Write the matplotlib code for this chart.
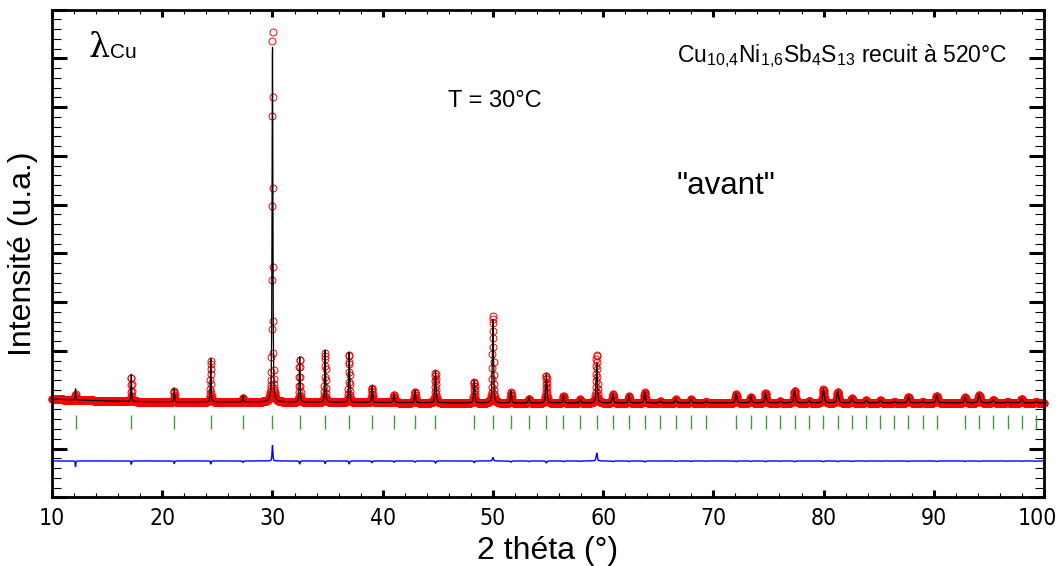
"""Rietveld plot: Cu10,4Ni1,6Sb4S13 recuit a 520 C, T = 30 C ("avant")."""

import matplotlib
matplotlib.use("Agg")
import matplotlib.pyplot as plt
from matplotlib import font_manager
from matplotlib.font_manager import FontProperties
from matplotlib.ticker import FuncFormatter, MultipleLocator, NullFormatter
import numpy as np

plt.rcParams.update({
    "font.family": "Liberation Sans",
    "mathtext.fontset": "custom",
    "mathtext.rm": "Liberation Sans",
    "mathtext.it": "Liberation Sans",
})

# ─── data ────────────────────────────────────────────────────────────────────

# Bragg positions of the tetrahedrite phase (2θ, °)
bragg_pos = [12.13, 17.19, 21.09, 24.40, 27.33, 30.00, 32.47, 34.78, 36.96,
             39.04, 41.03, 42.94, 44.79, 48.31, 50.00, 51.65, 53.27, 54.85,
             56.40, 57.92, 59.42, 60.89, 62.34, 63.78, 65.20, 66.60, 67.98,
             69.35, 72.07, 73.41, 74.74, 76.06, 77.38, 78.69, 79.99, 81.29,
             82.58, 83.87, 85.15, 86.43, 87.70, 88.99, 90.27, 92.84, 94.12,
             95.40, 96.69, 97.99, 99.27]

# peak heights above background, observed and calculated (u.a.)
obs_height = [120, 510, 225, 840, 90, 7720, 890, 1015, 980,
              305, 160, 225, 615, 435, 1790, 215, 90, 560,
              140, 70, 980, 175, 135, 215, 30, 70, 70,
              25, 180, 125, 195, 30, 245, 40, 275, 225,
              90, 50, 50, 20, 125, 20, 145, 110, 160,
              60, 20, 80, 20]
calc_height = [240, 580, 280, 900, 120, 7400, 950, 1070, 1040,
               340, 185, 250, 660, 470, 1720, 240, 105, 600,
               155, 80, 820, 190, 150, 235, 35, 80, 80,
               30, 195, 135, 210, 35, 260, 45, 290, 240,
               100, 55, 55, 25, 135, 25, 155, 120, 170,
               65, 25, 85, 25]

# background level
bg_2theta = [10, 12, 17, 20, 30, 40, 50, 70, 100]
bg_level = [2015, 1995, 1964, 1958, 1954, 1943, 1933, 1937, 1937]

diff_offset = 745          # Yobs - Ycalc is shifted to this level
bragg_lo, bragg_hi = 1400, 1690


def profile(x, heights):
    """Background plus pseudo-Voigt peaks at the Bragg positions."""
    y = np.interp(x, bg_2theta, bg_level).astype(float)
    for pos, h in zip(bragg_pos, heights):
        w = 0.06 + 0.0015 * (pos - 10)
        d = (x - pos) / w
        y += h * (0.5 * np.exp(-4 * np.log(2) * d ** 2) + 0.5 / (1 + 4 * d ** 2))
    return y


two_theta = np.arange(10, 100.0001, 0.0167)
y_obs = profile(two_theta, obs_height)
y_calc = profile(two_theta, calc_height)


def narrow_font(size):
    """A condensed sans face for the tick labels, if one is installed."""
    fonts = font_manager.fontManager.ttflist
    for f in fonts:
        if f.name in ("Liberation Sans Narrow", "Arial Narrow") and f.weight in (400, "normal") \
                and f.style == "normal":
            return FontProperties(fname=f.fname, size=size)
    for f in fonts:
        if f.name in ("Liberation Sans", "DejaVu Sans") and "ondensed" in str(f.stretch) \
                and f.style == "normal" and f.weight in (400, "normal"):
            return FontProperties(fname=f.fname, size=size)
    return FontProperties(family="Liberation Sans", size=size - 1.5)


# ─── figure ──────────────────────────────────────────────────────────────────

fig = plt.figure(figsize=(10.6, 5.66), dpi=100)
ax = fig.add_axes([0.0491, 0.1214, 0.9358, 0.8618])

ax.plot(two_theta, y_obs, "o", mfc="none", mec="red", ms=5, mew=0.7,
        clip_on=False, zorder=2)
ax.plot(two_theta, y_calc, color="black", lw=0.9, zorder=3)
ax.plot(two_theta, y_obs - y_calc + diff_offset, color="blue", lw=1, zorder=3)
ax.vlines(bragg_pos, bragg_lo, bragg_hi, color="#3a9e3a", lw=1, zorder=2)

ax.set_xlim(10, 100)
ax.set_ylim(0, 10000)
ax.xaxis.set_major_locator(MultipleLocator(10))
ax.xaxis.set_minor_locator(MultipleLocator(2))
# the last label ("100") is placed by hand, a little left of its tick
ax.xaxis.set_major_formatter(FuncFormatter(lambda v, p: "" if v >= 100 else f"{v:.0f}"))
ax.yaxis.set_major_locator(MultipleLocator(1000))
ax.yaxis.set_minor_locator(MultipleLocator(200))
ax.yaxis.set_major_formatter(NullFormatter())

for sp in ax.spines.values():
    sp.set_linewidth(2)

ax.tick_params(which="both", direction="in", top=True, right=True,
               labelleft=False)
ax.tick_params(axis="y", which="major", length=11, width=2.2)
ax.tick_params(axis="y", which="minor", length=6.5, width=0.8)
ax.tick_params(axis="x", which="major", length=5, width=2.2, pad=7)
ax.tick_params(axis="x", which="minor", length=3, width=0.8)

fp = narrow_font(16.5)
for lab in ax.get_xticklabels():
    lab.set_fontproperties(fp)
ax.annotate("100", xy=(100, 0), xycoords=("data", "axes fraction"),
            xytext=(-4.5, -7), textcoords="offset points",
            ha="center", va="top", fontproperties=fp)

ax.set_xlabel("2 théta (°)", fontsize=23, labelpad=4)
ax.set_ylabel("Intensité (u.a.)", fontsize=23, labelpad=10)

ax.text(0.0373, 0.902, "λ", transform=ax.transAxes, fontsize=24,
        family="DejaVu Serif", va="baseline")
ax.text(0.0585, 0.9006, "Cu", transform=ax.transAxes, fontsize=15,
        va="baseline")
ax.text(0.630, 0.893,
        r"Cu$_{\mathregular{10{,}4}}$Ni$_{\mathregular{1{,}6}}$Sb$_{\mathregular{4}}$"
        r"S$_{\mathregular{13}}$ recuit à 520°C",
        transform=ax.transAxes, fontsize=16.5, va="baseline")
ax.text(0.399, 0.7995, "T = 30°C", transform=ax.transAxes, fontsize=17,
        va="baseline")
ax.text(0.630, 0.622, '"avant"', transform=ax.transAxes, fontsize=22.5,
        va="baseline")

fig.savefig("out.png", dpi=100)
